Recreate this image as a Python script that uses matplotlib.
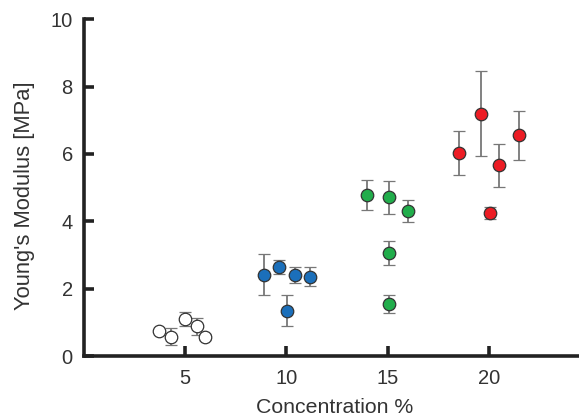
import matplotlib
matplotlib.use("Agg")
import matplotlib.pyplot as plt

plt.rcParams['font.family'] = ['Liberation Sans', 'DejaVu Sans']

white_x = [3.7, 4.3, 5.0, 5.6, 6.0]
white_y = [0.76, 0.58, 1.10, 0.89, 0.57]
white_e = [0.0, 0.26, 0.21, 0.25, 0.08]

blue_x = [8.9, 9.65, 10.45, 11.15, 10.05]
blue_y = [2.42, 2.65, 2.41, 2.36, 1.35]
blue_e = [0.61, 0.21, 0.23, 0.28, 0.46]

green_x = [14.0, 15.05, 16.0, 15.05, 15.05]
green_y = [4.78, 4.71, 4.30, 3.07, 1.55]
green_e = [0.45, 0.48, 0.33, 0.36, 0.27]

red_x = [18.55, 19.6, 20.5, 20.05, 21.5]
red_y = [6.03, 7.20, 5.66, 4.25, 6.55]
red_e = [0.66, 1.26, 0.65, 0.17, 0.74]

series = [
    (white_x, white_y, white_e, 'white'),
    (blue_x, blue_y, blue_e, '#1b6fba'),
    (green_x, green_y, green_e, '#21ad4b'),
    (red_x, red_y, red_e, '#ec1c24'),
]

fig = plt.figure(figsize=(5.79, 4.18), dpi=100)
ax = fig.add_axes([0.145, 0.148, 0.853, 0.806])

for x, y, e, c in series:
    cont = ax.errorbar(x, y, yerr=e, fmt='o', color=c, markersize=9,
                       markeredgecolor='#333333', markeredgewidth=0.9,
                       ecolor='#777777', elinewidth=1.3, capsize=4.5,
                       capthick=1.3, zorder=3)
    for cap in cont[1]:
        cap.set_color('#333333')

ax.set_xlim(0, 24.4)
ax.set_ylim(0, 10)
ax.set_xticks([5, 10, 15, 20])
ax.set_yticks([0, 2, 4, 6, 8, 10])
for s in ['top', 'right']:
    ax.spines[s].set_visible(False)
for s in ['left', 'bottom']:
    ax.spines[s].set_linewidth(2.6)
    ax.spines[s].set_color('#222222')
ax.tick_params(direction='in', length=7, width=2.6, color='#222222',
               labelsize=14.5, labelcolor='#333333')
ax.tick_params(axis='x', pad=9)
ax.tick_params(axis='y', pad=8)
ax.set_xlabel('Concentration %', fontsize=15.3, color='#333333')
ax.set_ylabel("Young's Modulus [MPa]", fontsize=15.8, color='#333333')
ax.xaxis.set_label_coords(0.508, -0.125)
ax.yaxis.set_label_coords(-0.099, 0.475)

fig.savefig('out.png', dpi=100)
